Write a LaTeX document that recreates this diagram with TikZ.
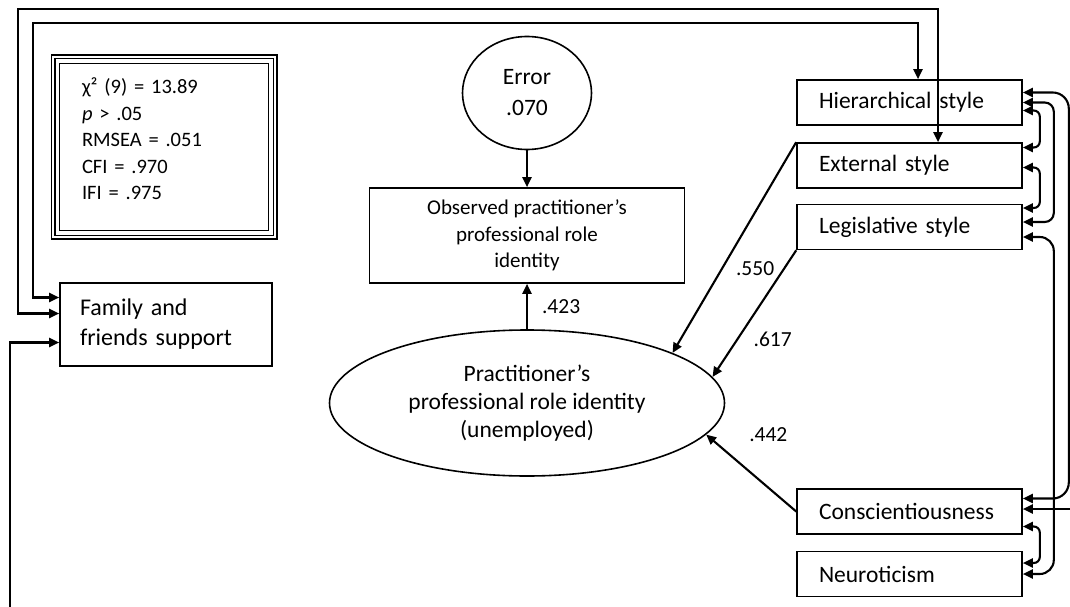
\documentclass[tikz,border=0pt]{standalone}
\usepackage{fontspec}
\setmainfont{Carlito}
\usetikzlibrary{arrows.meta,positioning,shapes.geometric,calc}

\def\tipsize{length=10pt,width=9pt}

\begin{document}
\begin{tikzpicture}
    [x=1pt,y=-1pt,
      box/.style={draw,line width=1.6pt,inner sep=0pt},
      trait/.style={box,minimum width=225pt,minimum height=45pt,text width=181pt,align=left,font=\fontsize{23.5}{27}\selectfont},
      latent/.style={ellipse,draw,line width=1.6pt,inner sep=0pt,align=center},
      wlabel/.style={inner sep=0pt,font=\fontsize{21.5}{24}\selectfont},
      conn/.style={line width=2.1pt,-{Triangle[\tipsize]}},
      corr/.style={line width=2.1pt,{Triangle[\tipsize]}-{Triangle[\tipsize]}}]

    \useasboundingbox (0,0) rectangle (1070,607);

    % fit indices
    \node[box,double,double distance=2pt,line width=1.5pt,minimum width=222pt,minimum height=180pt,
      text width=164pt,align=left,font=\fontsize{20.5}{26.5}\selectfont] (stats) at (164,147)
      {χ² (9) = 13.89\\\textit{p} > .05\\RMSEA = .051\\CFI = .970\\IFI = .975\\[-10pt]\mbox{}};
    \draw[line width=1pt] ($(stats.north west)+(7,7)$) rectangle ($(stats.south east)+(-7,-7)$);

    \node[box,minimum width=212pt,minimum height=83pt,text width=172pt,align=left,
      font=\fontsize{24}{30}\selectfont] (fam) at (166,324.5) {Family and\\friends support};

    \node[latent,minimum width=129pt,minimum height=113pt,font=\fontsize{23.5}{31}\selectfont] (err) at (527,93) {Error\\.070};
    \node[box,minimum width=315pt,minimum height=95pt,align=center,font=\fontsize{21}{26.5}\selectfont] (obs) at (527,235.5)
      {Observed practitioner’s\\professional role\\identity};
    \node[latent,minimum width=395pt,minimum height=146pt,font=\fontsize{23.5}{28}\selectfont] (pri) at (527,403)
      {Practitioner’s\\professional role identity\\(unemployed)};

    \foreach \nm/\txt/\yy in {hier/Hierarchical style/102.5,ext/External style/165.5,leg/Legislative style/227,
        con/Conscientiousness/511.5,neu/Neuroticism/574} {
      \node[trait] (\nm) at (909.5,\yy) {\txt};
    }

    % paths
    \draw[conn] (err) -- (obs);
    \draw[conn] (pri) -- node[wlabel,pos=.5,right=14pt] (w423) {.423} (obs);
    \draw[conn] (ext.north west) -- node[wlabel,pos=.6,right=13pt] (w550) {.550} (pri.19);
    \draw[conn] (leg.south west) -- node[wlabel,pos=.7,right=15pt] (w617) {.617} (pri.8);
    \draw[conn] (con.west) -- node[wlabel,pos=.9,right=33pt,yshift=8pt] (w442) {.442} (pri.-10);

    % correlations
    \coordinate (topA) at (18,9);
    \coordinate (topB) at (33,23);
    \draw[corr] ([yshift=11pt]fam.west) -| (topA) -| ([xshift=28.5pt]ext.north);
    \draw[corr] ([yshift=27pt]fam.west) -| (topB) -| ([xshift=8.5pt]hier.north);
    \draw[corr,rounded corners=6pt] ([yshift=-8pt]hier.east) -- ++(17,0) |- ([yshift=18pt]ext.east);
    \draw[corr,rounded corners=6pt] ([yshift=-2pt]ext.east) -- ++(17,0) |- ([yshift=19pt]leg.east);
    \draw[corr,rounded corners=9pt] (hier.east) -- ++(31,0) |- ([yshift=5pt]leg.east);
    \draw[corr,rounded corners=16pt] ([yshift=10pt]hier.east) -- ++(46,0) |- ([yshift=13pt]con.east);
    \draw[corr,rounded corners=14pt] ([yshift=-10pt]leg.east) -- ++(31,0) |- (neu.east);
    \draw[corr,rounded corners=6pt] ([yshift=-15pt]con.east) -- ++(17,0) |- ([yshift=11pt]neu.east);

    % cut at the page edge
    \coordinate (cutB) at (10,607);
    \coordinate (cutR) at (1070,509);
    \draw[conn] (cutB) |- ([yshift=-18pt]fam.west);
    \draw[conn] (cutR) -- ([yshift=2.5pt]con.east);
\end{tikzpicture}
\end{document}
